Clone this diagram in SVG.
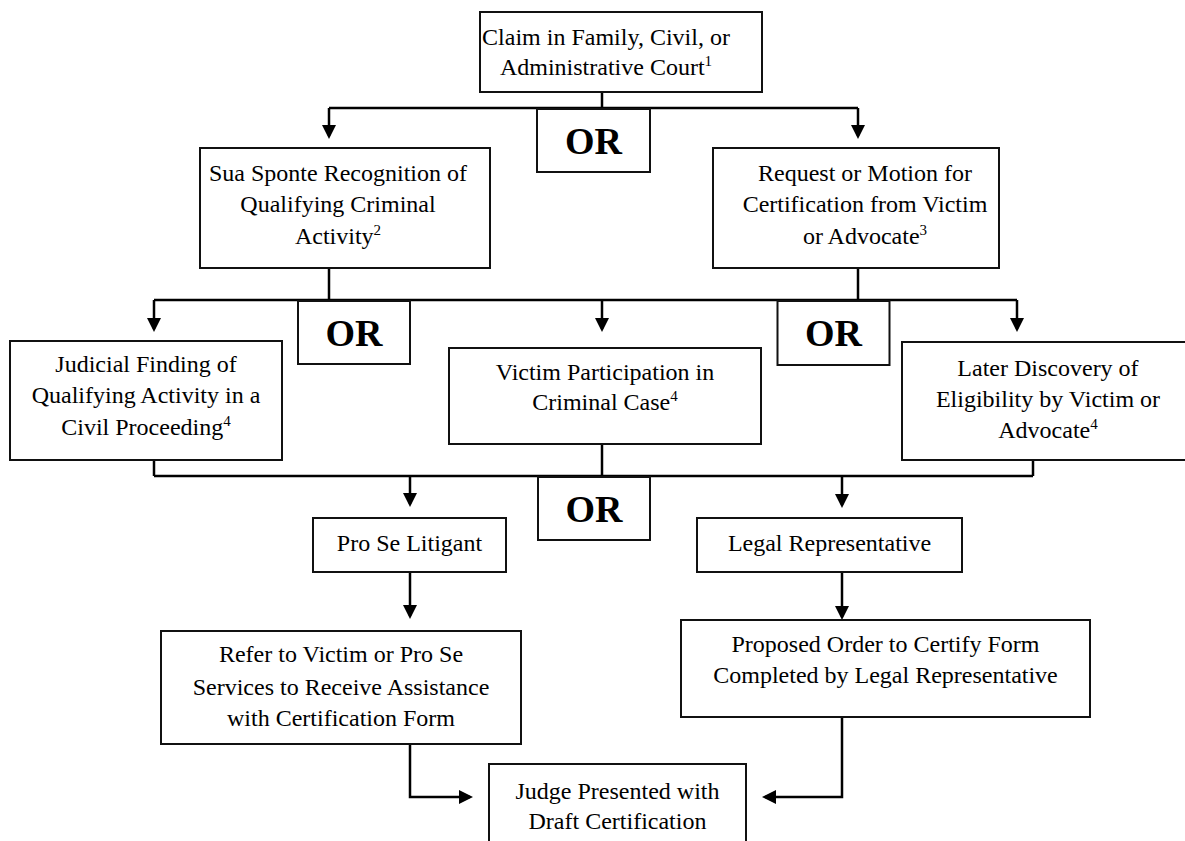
<svg xmlns="http://www.w3.org/2000/svg" width="1185" height="841" viewBox="0 0 1185 841">
<style>
.box{fill:#fff;stroke:#111;stroke-width:2}
.t{font-family:"Liberation Serif","Times New Roman",serif;font-size:24px;fill:#000;text-anchor:middle}
.or{font-family:"Liberation Serif","Times New Roman",serif;font-size:38px;font-weight:bold;fill:#000;text-anchor:middle}
.sup{font-size:15px}
.c{fill:none;stroke:#000;stroke-width:2.5}
</style>
<defs>
<marker id="ah" viewBox="0 0 14 14" refX="11" refY="7" markerWidth="14" markerHeight="14" markerUnits="userSpaceOnUse" orient="auto">
<path d="M0,0 L14,7 L0,14 z" fill="#000"/>
</marker>
</defs>
<rect width="1185" height="841" fill="#fff"/>
<g id="connectors">
<path class="c" d="M602,92 V108"/>
<path class="c" d="M329,108 H858"/>
<path class="c" d="M329,108 V136" marker-end="url(#ah)"/>
<path class="c" d="M858,108 V136" marker-end="url(#ah)"/>
<path class="c" d="M329,268 V300"/>
<path class="c" d="M858,268 V300"/>
<path class="c" d="M154,300 H1017"/>
<path class="c" d="M154,300 V329" marker-end="url(#ah)"/>
<path class="c" d="M602,300 V329" marker-end="url(#ah)"/>
<path class="c" d="M1017,300 V329" marker-end="url(#ah)"/>
<path class="c" d="M154,460 V476"/>
<path class="c" d="M602,444 V476"/>
<path class="c" d="M1033,460 V476"/>
<path class="c" d="M154,476 H1033"/>
<path class="c" d="M410,476 V504" marker-end="url(#ah)"/>
<path class="c" d="M842,476 V505" marker-end="url(#ah)"/>
<path class="c" d="M410,572 V616" marker-end="url(#ah)"/>
<path class="c" d="M842,572 V617" marker-end="url(#ah)"/>
<path class="c" d="M410,744 V797 H470" marker-end="url(#ah)"/>
<path class="c" d="M842,717 V797 H765" marker-end="url(#ah)"/>
</g>
<g id="claim">
<rect class="box" x="480" y="12" width="282" height="80"/>
<text class="t" x="606" y="45">Claim in Family, Civil, or</text>
<text class="t" x="606" y="75">Administrative Court<tspan class="sup" dy="-9">1</tspan></text>
</g>
<g id="or1">
<rect class="box" x="537" y="109" width="113" height="63"/>
<text class="or" x="593.5" y="154">OR</text>
</g>
<g id="suasponte">
<rect class="box" x="200" y="148" width="290" height="120"/>
<text class="t" x="338" y="181">Sua Sponte Recognition of</text>
<text class="t" x="338" y="212">Qualifying Criminal</text>
<text class="t" x="338" y="244">Activity<tspan class="sup" dy="-9">2</tspan></text>
</g>
<g id="request">
<rect class="box" x="713" y="148" width="286" height="120"/>
<text class="t" x="865" y="181">Request or Motion for</text>
<text class="t" x="865" y="212">Certification from Victim</text>
<text class="t" x="865" y="244">or Advocate<tspan class="sup" dy="-9">3</tspan></text>
</g>
<g id="or2">
<rect class="box" x="298" y="301" width="112" height="63"/>
<text class="or" x="354" y="346">OR</text>
</g>
<g id="or3">
<rect class="box" x="777.5" y="301" width="112" height="64"/>
<text class="or" x="833.5" y="346">OR</text>
</g>
<g id="judicial">
<rect class="box" x="10" y="341" width="272" height="119"/>
<text class="t" x="146" y="372">Judicial Finding of</text>
<text class="t" x="146" y="403">Qualifying Activity in a</text>
<text class="t" x="146" y="435">Civil Proceeding<tspan class="sup" dy="-9">4</tspan></text>
</g>
<g id="victim">
<rect class="box" x="449" y="348" width="312" height="96"/>
<text class="t" x="605" y="380">Victim Participation in</text>
<text class="t" x="605" y="410">Criminal Case<tspan class="sup" dy="-9">4</tspan></text>
</g>
<g id="later">
<rect class="box" x="902" y="342" width="292" height="118"/>
<text class="t" x="1048" y="376">Later Discovery of</text>
<text class="t" x="1048" y="407">Eligibility by Victim or</text>
<text class="t" x="1048" y="438">Advocate<tspan class="sup" dy="-9">4</tspan></text>
</g>
<g id="or4">
<rect class="box" x="538" y="477" width="112" height="63"/>
<text class="or" x="594" y="522">OR</text>
</g>
<g id="prose">
<rect class="box" x="313" y="518" width="193" height="54"/>
<text class="t" x="409.5" y="551">Pro Se Litigant</text>
</g>
<g id="legalrep">
<rect class="box" x="697" y="518" width="265" height="54"/>
<text class="t" x="829.5" y="551">Legal Representative</text>
</g>
<g id="refer">
<rect class="box" x="161" y="631" width="360" height="113"/>
<text class="t" x="341" y="662">Refer to Victim or Pro Se</text>
<text class="t" x="341" y="695">Services to Receive Assistance</text>
<text class="t" x="341" y="726">with Certification Form</text>
</g>
<g id="proposed">
<rect class="box" x="681" y="620" width="409" height="97"/>
<text class="t" x="885.5" y="652">Proposed Order to Certify Form</text>
<text class="t" x="885.5" y="683">Completed by Legal Representative</text>
</g>
<g id="judge">
<rect class="box" x="489" y="764" width="257" height="90"/>
<text class="t" x="617.5" y="799">Judge Presented with</text>
<text class="t" x="617.5" y="829">Draft Certification</text>
</g>
</svg>
